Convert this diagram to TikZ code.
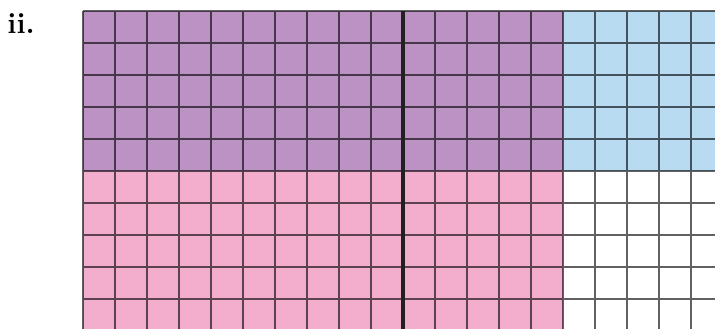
\documentclass[tikz,border=0pt]{standalone}
\usepackage{tikz}

\definecolor{upperfill}{HTML}{BB92C3}
\definecolor{cornerfill}{HTML}{B8DBF2}
\definecolor{lowerfill}{HTML}{F3AECE}

\begin{document}
\begin{tikzpicture}[
  label/.style={font=\fontsize{26}{30}\selectfont\bfseries,inner sep=0pt,anchor=base west},
  gridline/.style={line width=1.8pt,draw=black,draw opacity=0.62},
  halfline/.style={line width=3.6pt,draw=black!87}
]
\useasboundingbox (-2.584,0.353) rectangle (19.76,-9.928);
\clip (-2.584,0.353) rectangle (19.76,-9.928);
% shaded parts
\fill[upperfill] (0,0) rectangle (15,-5);
\fill[cornerfill] (15,0) rectangle (20,-5);
\fill[lowerfill] (0,-5) rectangle (15,-10);
% the grid
\draw[gridline] (0,0) grid (20,-10);
\draw[halfline] (10,0) -- (10,-10);
\node[label] (part) at (-2.36,-0.68) {ii.};
\end{tikzpicture}
\end{document}
